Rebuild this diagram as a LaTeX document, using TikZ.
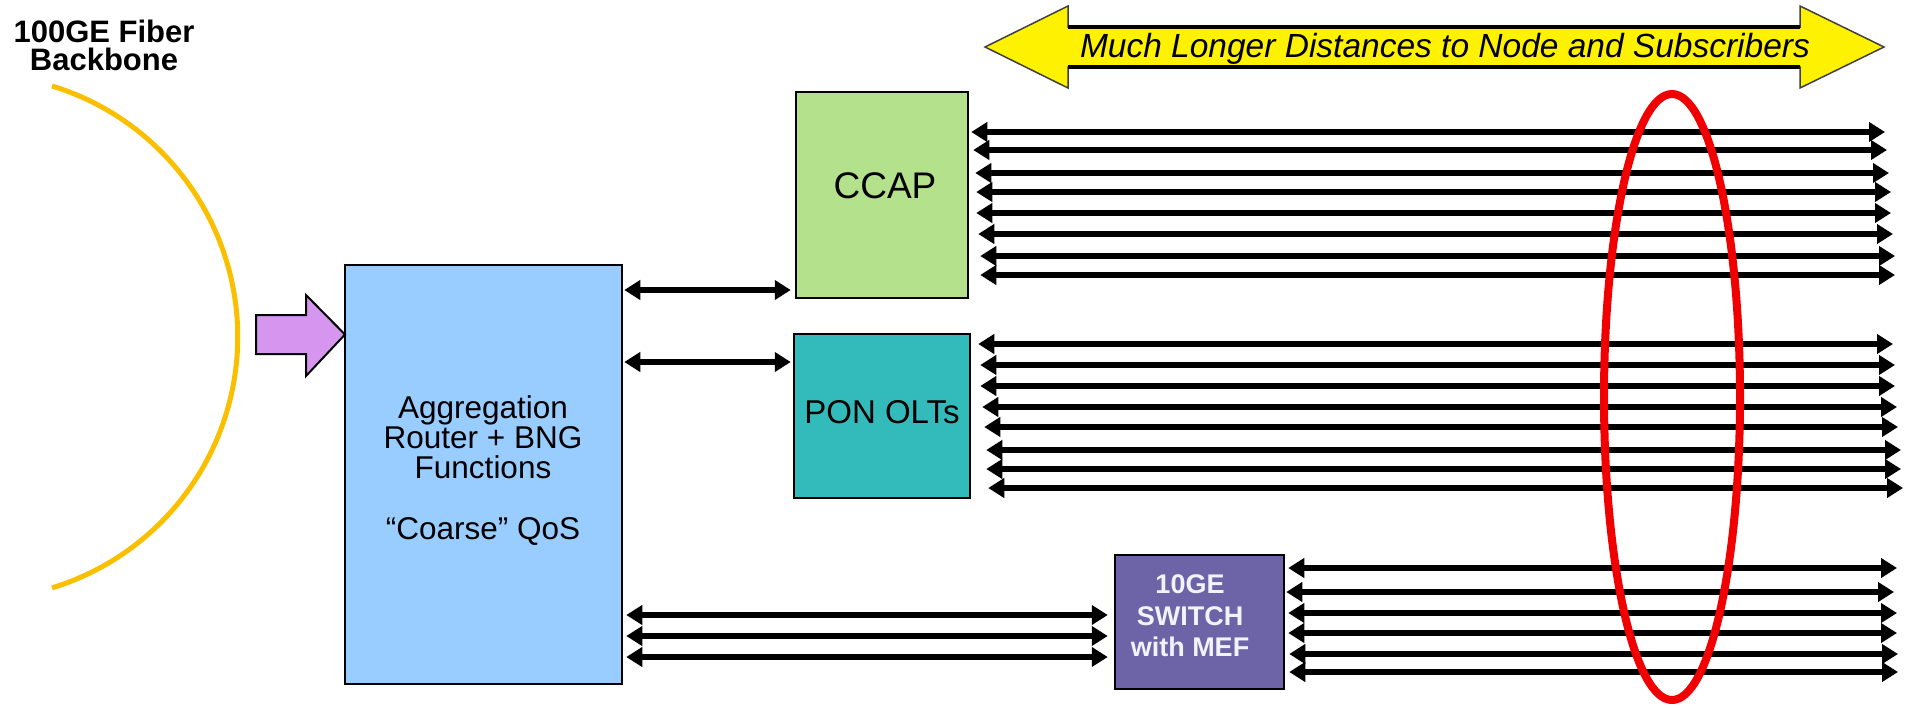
\documentclass[tikz,border=0pt]{standalone}
\usepackage{fontspec}
\setmainfont{Liberation Sans}
\usetikzlibrary{arrows.meta}
\definecolor{aggblue}{RGB}{153,204,255}
\definecolor{ccapgreen}{RGB}{180,226,140}
\definecolor{ponteal}{RGB}{51,187,187}
\definecolor{swpurple}{RGB}{108,100,166}
\definecolor{fibergold}{RGB}{250,192,0}
\definecolor{inpurple}{RGB}{214,150,240}
\definecolor{ovalred}{RGB}{240,0,0}
\definecolor{swtext}{RGB}{242,242,250}
\tikzset{
  box/.style={draw=black, line width=2.5pt, inner sep=0pt, rectangle},
  txt/.style={inner sep=0pt, anchor=base, text=black},
  dbl/.style={line width=6.5pt, {Triangle[length=16pt,width=19pt]}-{Triangle[length=16pt,width=19pt]}},
  fiber/.style={draw=fibergold, line width=5pt},
  oval/.style={draw=ovalred, line width=8pt},
}
\begin{document}
\begin{tikzpicture}[x=1pt,y=-1pt]
\useasboundingbox (0,0) rectangle (1912,707);

% title
\node[inner sep=0pt, anchor=north, align=center, font=\bfseries\fontsize{31}{28.5}\selectfont] (title) at (104,19.5) {100GE Fiber\\Backbone};

% fiber arc
\draw[fiber] (52,86) arc[start angle=73, end angle=-73, radius=262.4pt];

% boxes
\node[box, fill=aggblue, minimum width=277pt, minimum height=419pt] (agg) at (483.5,474.5) {};
\node[box, fill=ccapgreen, minimum width=172pt, minimum height=206pt] (ccap) at (882,195) {};
\node[box, fill=ponteal, minimum width=176pt, minimum height=164pt] (pon) at (882,416) {};
\node[box, fill=swpurple, minimum width=169pt, minimum height=134pt] (sw) at (1199.5,622) {};

% input arrow
\draw[fill=inpurple, line width=2pt, line join=miter] (256,315) -- (306,315) -- (306,295) -- (345,334.5) -- (306,376) -- (306,354) -- (256,354) -- cycle;

% box texts
\node[inner sep=0pt, anchor=north, align=center, font=\fontsize{31.5}{30}\selectfont] (aggtxt) at (483,395) {Aggregation\\Router + BNG\\Functions\\[31pt]“Coarse” QoS};
\node[txt, font=\fontsize{37}{37}\selectfont] (ct) at (885,198) {CCAP};
\node[txt, font=\fontsize{33}{33}\selectfont] (pt) at (882,423) {PON OLTs};
\node[inner sep=0pt, anchor=north, align=center, text=swtext, font=\bfseries\fontsize{27}{31.5}\selectfont] (swtxt) at (1190,574.5) {10GE\\SWITCH\\with MEF};

% agg to ccap / pon
\coordinate (ra) at (700,290);
\coordinate (rb) at (700,362);
\draw[dbl, shorten <=1pt, shorten >=4pt] (agg.east |- ra) -- (ccap.west |- ra);
\draw[dbl, shorten <=1pt, shorten >=2pt] (agg.east |- rb) -- (pon.west |- rb);

% agg to switch
\foreach \y [count=\i] in {615,636,657} {
  \coordinate (sa\i) at (900,\y);
  \draw[dbl, shorten <=3pt, shorten >=6pt] (agg.east |- sa\i) -- (sw.west |- sa\i);
}

% CCAP outputs
\foreach \y/\l/\r [count=\i] in {132/970/1885,150/972/1887,173/974/1889,192/975/1891,213/975/1891,234/977/1893,256/979/1895,275/979/1895} {
  \coordinate (ce\i) at (\r,\y);
  \draw[dbl, shorten <={(\l-968)*1pt}] (ccap.east |- ce\i) -- (ce\i);
}
% PON outputs
\foreach \y/\l/\r [count=\i] in {344/977/1893,365/979/1895,386/979/1895,407/981/1897,427/983/1898,450/985/1901,469/985/1901,488/987/1903} {
  \coordinate (pe\i) at (\r,\y);
  \draw[dbl, shorten <={(\l-970)*1pt}] (pon.east |- pe\i) -- (pe\i);
}
% switch outputs
\foreach \y/\l/\r [count=\i] in {568/1287/1897,592/1285/1894,613/1287/1897,633/1287/1897,654/1288/1898,672/1288/1898} {
  \coordinate (se\i) at (\r,\y);
  \draw[dbl, shorten <={(\l-1284)*1pt}] (sw.east |- se\i) -- (se\i);
}

% red oval
\draw[oval] (1672,397) ellipse [x radius=68pt, y radius=303pt];

% distance arrow
\fill[yellow] (985,47) -- (1068,6) -- (1068,27) -- (1800,27) -- (1800,6) -- (1884,47) -- (1800,88) -- (1800,67) -- (1068,67) -- (1068,88) -- cycle;
\draw[black!75, line width=1.5pt, line join=miter] (985,47) -- (1068,6) -- (1068,27) -- (1800,27) -- (1800,6) -- (1884,47) -- (1800,88) -- (1800,67) -- (1068,67) -- (1068,88) -- cycle;
\draw[line width=4pt] (1068,27) -- (1800,27);
\draw[line width=3.5pt] (1068,67) -- (1800,67);
\node[txt, font=\itshape\fontsize{33.5}{33.5}\selectfont] (dt) at (1445,57) {Much Longer Distances to Node and Subscribers};
\end{tikzpicture}
\end{document}
